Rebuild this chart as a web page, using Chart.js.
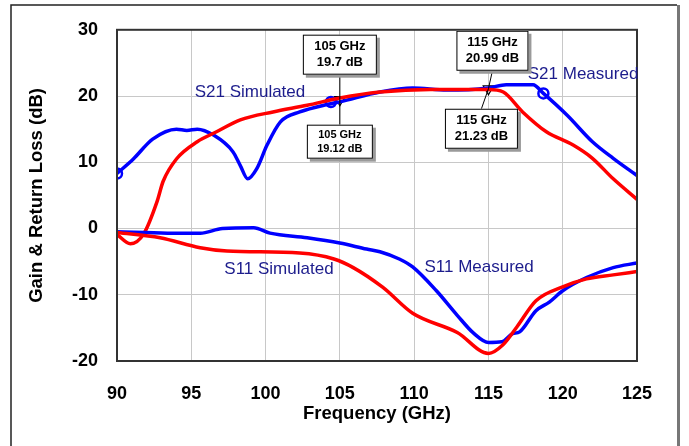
<!DOCTYPE html>
<html>
<head>
<meta charset="utf-8">
<script src="https://cdn.jsdelivr.net/npm/chart.js@4"></script>
<style>
  html, body { margin: 0; padding: 0; background: #fff; }
  canvas { display: block; }
</style>
</head>
<body>
<canvas id="sparamChart" width="689" height="446"></canvas>
<script>
// Dados (GHz, dB)
const xTicks = [90, 95, 100, 105, 110, 115, 120, 125];
const yTicks = [-20, -10, 0, 10, 20, 30];

const blueS21Freq = [90, 91.1, 92.4, 94.0, 94.7, 95.4, 96.5, 97.8, 98.3, 98.8, 99.4, 100.1, 101.0, 102.3, 104.3, 105, 107.7, 109.9, 112.2, 115, 116.2, 118, 118.7, 120.3, 122.0, 123.4, 125];
const blueS21Val  = [8.3, 10.5, 13.5, 15.0, 14.8, 15.0, 14.1, 11.6, 9.5, 7.5, 9.0, 12.6, 16.1, 17.6, 18.8, 19.12, 20.6, 21.2, 20.9, 21.23, 21.7, 21.7, 20.4, 17.1, 13.1, 10.6, 8.0];

const redS21Freq = [90, 90.9, 91.8, 92.7, 93.1, 94.0, 95.4, 96.7, 98.3, 100.5, 102.8, 105, 107.7, 111.1, 115, 116, 117.3, 118.9, 120.7, 122, 123.4, 125];
const redS21Val  = [-0.9, -2.3, -0.8, 4.1, 7.1, 10.5, 13.1, 14.6, 16.4, 17.6, 18.6, 19.7, 20.6, 21.0, 20.99, 20.6, 17.6, 14.6, 12.6, 10.6, 7.5, 4.4];

const blueS11Freq = [90, 93.4, 95.6, 97.1, 99.2, 100.3, 102.8, 105, 106.8, 107.7, 109.0, 109.9, 111.5, 112.9, 114.0, 115, 115.9, 116.6, 117.1, 118.2, 119.1, 120, 121.6, 123.4, 125];
const blueS11Val  = [-0.5, -0.7, -0.7, 0.0, 0.1, -0.7, -1.4, -2.2, -3.1, -3.5, -4.6, -5.8, -9.4, -13.1, -15.8, -17.2, -17.1, -15.9, -15.6, -12.4, -11.1, -9.4, -7.4, -5.9, -5.2];

const redS11Freq = [90, 92.9, 95.6, 97.4, 102.3, 104.6, 105.9, 107.9, 109.9, 112.9, 115, 116, 116.9, 118.2, 120, 121.6, 123.4, 125];
const redS11Val  = [-0.6, -1.4, -2.9, -3.4, -3.7, -4.6, -5.9, -8.9, -12.8, -15.7, -18.85, -17.5, -14.9, -10.9, -8.8, -7.6, -7.0, -6.5];

// Marcadores circulares da curva medida
const circleFreq = [90, 104.4, 118.7];
const circleVal  = [8.3, 19.1, 20.4];

// Marcadores triangulares (leituras)
const markerFreq = [105, 115];
const markerVal  = [19.45, 21.1];

// Caixas de leitura: texto e ponto de ancoragem
const readoutText = [['105 GHz', '19.7 dB'], ['105 GHz', '19.12 dB'], ['115 GHz', '20.99 dB'], ['115 GHz', '21.23 dB']];
const readoutAnchor = [0, 0, 1, 1];

// Rótulos das curvas
const curveLabels = ['S21 Simulated', 'S21 Measured', 'S11 Simulated', 'S11 Measured'];
const curveLabelFreq = [98.95, 121.37, 100.9, 114.37];
const curveLabelVal  = [20.57, 23.26, -6.2, -5.8];

const FONT = 'Arial, "Liberation Sans", sans-serif';
const BLUE = '#0000ff';
const RED = '#ff0000';

function pts(xs, ys) {
  return xs.map((x, i) => ({ x: x, y: ys[i] }));
}

// estilo das caixas (offsets em pixels a partir do marcador)
const readoutStyle = [
  { dx: 0, dy: -45, w: 74, h: 40, size: 13 },
  { dx: 0, dy: 42, w: 66, h: 34, size: 11 },
  { dx: 4, dy: -38, w: 72, h: 40, size: 13 },
  { dx: -7, dy: 40, w: 73, h: 40, size: 13 }
];

const decorPlugin = {
  id: 'decor',
  beforeDraw(chart) {
    const c = chart.ctx;
    c.save();
    c.fillStyle = '#fff';
    c.fillRect(0, 0, chart.width, chart.height);
    // moldura externa
    c.strokeStyle = '#222';
    c.lineWidth = 1.5;
    c.beginPath();
    c.moveTo(11, chart.height + 2);
    c.lineTo(11, 5);
    c.lineTo(677, 5);
    c.stroke();
    c.strokeStyle = '#777';
    c.lineWidth = 3;
    c.beginPath();
    c.moveTo(678.5, 5);
    c.lineTo(678.5, chart.height + 2);
    c.stroke();
    c.restore();
  },
  afterDatasetsDraw(chart) {
    const c = chart.ctx;
    const a = chart.chartArea;
    const xs = chart.scales.x, ys = chart.scales.y;
    c.save();
    // borda da área do gráfico
    c.strokeStyle = '#333';
    c.lineWidth = 2;
    c.strokeRect(a.left, a.top, a.right - a.left, a.bottom - a.top);

    // rótulos das curvas
    c.fillStyle = '#1c1c8c';
    c.font = '17px ' + FONT;
    c.textAlign = 'center';
    c.textBaseline = 'middle';
    curveLabels.forEach((t, i) => {
      c.fillText(t, xs.getPixelForValue(curveLabelFreq[i]), ys.getPixelForValue(curveLabelVal[i]));
    });

    // caixas de leitura
    readoutText.forEach((lines, i) => {
      const k = readoutAnchor[i];
      const px = xs.getPixelForValue(markerFreq[k]);
      const py = ys.getPixelForValue(markerVal[k]);
      const s = readoutStyle[i];
      const cx = px + s.dx, cy = py + s.dy;
      const bx = cx - s.w / 2, by = cy - s.h / 2;
      c.strokeStyle = '#000';
      c.lineWidth = 1;
      c.beginPath();
      c.moveTo(px, py);
      c.lineTo(cx, s.dy < 0 ? by + s.h : by);
      c.stroke();
      c.fillStyle = '#9a9a9a';
      c.fillRect(bx + 3, by + 3, s.w, s.h);
      c.fillStyle = '#fff';
      c.fillRect(bx, by, s.w, s.h);
      c.strokeRect(bx + 0.5, by + 0.5, s.w - 1, s.h - 1);
      c.fillStyle = '#000';
      c.font = 'bold ' + s.size + 'px ' + FONT;
      const lh = s.size + 3;
      c.fillText(lines[0], cx, cy - lh / 2);
      c.fillText(lines[1], cx, cy + lh / 2);
    });
    c.restore();
  }
};

function lineSet(data, color) {
  return {
    data: data,
    borderColor: color,
    borderWidth: 3.5,
    pointRadius: 0,
    fill: false,
    cubicInterpolationMode: 'monotone'
  };
}

const ctx = document.getElementById('sparamChart').getContext('2d');
const chart = new Chart(ctx, {
  type: 'line',
  data: {
    datasets: [
      lineSet(pts(redS11Freq, redS11Val), RED),
      lineSet(pts(blueS11Freq, blueS11Val), BLUE),
      lineSet(pts(redS21Freq, redS21Val), RED),
      lineSet(pts(blueS21Freq, blueS21Val), BLUE),
      {
        data: pts(circleFreq, circleVal),
        showLine: false,
        pointStyle: 'circle',
        pointRadius: 5,
        pointBorderWidth: 2.5,
        pointBorderColor: BLUE,
        pointBackgroundColor: 'rgba(0,0,0,0)'
      },
      {
        data: pts(markerFreq, markerVal),
        showLine: false,
        pointStyle: 'triangle',
        rotation: 180,
        pointRadius: 6,
        pointBorderWidth: 1.2,
        pointBorderColor: '#000',
        pointBackgroundColor: 'rgba(0,0,0,0)'
      }
    ]
  },
  options: {
    responsive: false,
    animation: false,
    devicePixelRatio: 1,
    layout: { padding: { left: 15, top: 27, right: 52, bottom: 0 } },
    plugins: { legend: { display: false }, tooltip: { enabled: false } },
    scales: {
      x: {
        type: 'linear',
        min: 90,
        max: 125,
        afterBuildTicks: s => { s.ticks = xTicks.map(v => ({ value: v })); },
        afterFit: s => { s.height = 85; },
        grid: { color: '#c8c8c8', lineWidth: 1, drawTicks: false },
        border: { display: false },
        ticks: { padding: 22, color: '#000', font: { family: FONT, size: 18, weight: 'bold' } },
        title: {
          display: true,
          text: 'Frequency (GHz)',
          color: '#000',
          padding: { top: 0, bottom: 21 },
          font: { family: FONT, size: 18.5, weight: 'bold' }
        }
      },
      y: {
        type: 'linear',
        min: -20,
        max: 30,
        afterBuildTicks: s => { s.ticks = yTicks.map(v => ({ value: v })); },
        afterFit: s => { s.width = 102; },
        grid: { color: '#c8c8c8', lineWidth: 1, drawTicks: false },
        border: { display: false },
        ticks: { padding: 19, color: '#000', font: { family: FONT, size: 18, weight: 'bold' } },
        title: {
          display: true,
          text: 'Gain & Return Loss (dB)',
          color: '#000',
          padding: { top: 11, bottom: 0 },
          font: { family: FONT, size: 18.5, weight: 'bold' }
        }
      }
    }
  },
  plugins: [decorPlugin]
});
</script>
</body>
</html>
